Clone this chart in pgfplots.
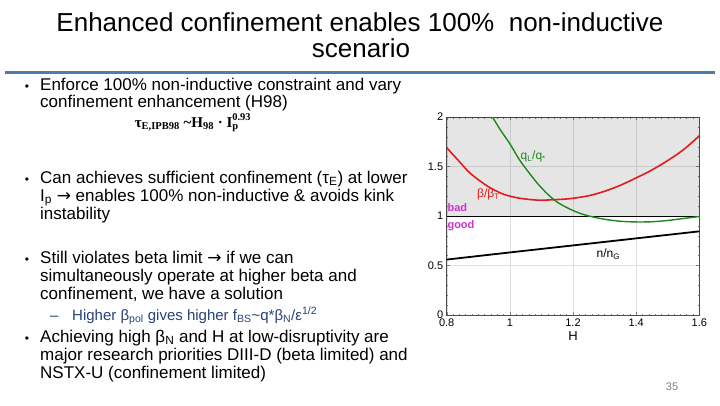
\documentclass[border=0pt]{standalone}
\usepackage{fontspec}
\setmainfont{Liberation Sans}
\newfontfamily\serifbf{Liberation Serif}
\newfontfamily\dejavu{DejaVu Sans}
\usepackage{pgfplots}
\pgfplotsset{compat=1.18}
\definecolor{rulblue}{RGB}{79,124,172}
\definecolor{subblue}{RGB}{38,66,118}
\definecolor{cred}{RGB}{226,28,28}
\definecolor{cgreen}{RGB}{30,135,30}
\definecolor{cmag}{RGB}{204,51,204}
\newcommand{\arr}{{\dejavu →}}
\begin{document}
\begin{tikzpicture}[x=1pt,y=1pt]
\useasboundingbox[fill=white] (0,0) rectangle (720,-405);
% title
\node[anchor=base,font=\fontsize{26}{26}\selectfont,inner sep=0pt] at (360,-31) {Enhanced confinement enables 100\%\ \ non-inductive};
\node[anchor=base,font=\fontsize{26}{26}\selectfont,inner sep=0pt] at (361,-57) {scenario};
\fill[rulblue] (5,-70.5) rectangle (715,-73.5);
% body text
\tikzset{bl/.style={anchor=base west,inner sep=0pt,font=\fontsize{17}{18}\selectfont},
         bu/.style={anchor=base,inner sep=0pt,font=\fontsize{12}{12}\selectfont}}
\node[bu] at (27,-90) {•};
\node[bl] at (40,-90) {Enforce 100\% non-inductive constraint and vary};
\node[bl] at (40,-107.5) {confinement enhancement (H98)};
\node[anchor=base,inner sep=0pt,font=\serifbf\bfseries\fontsize{15}{15}\selectfont] at (193,-127) {τ\textsubscript{E,IPB98} \textasciitilde H\textsubscript{98} · I\rlap{\textsubscript{p}}\raisebox{1.5pt}{\textsuperscript{0.93}}};
\node[bu] at (27,-183) {•};
\node[bl] at (40,-183) {Can achieves sufficient confinement (τ\textsubscript{E}) at lower};
\node[bl] at (40,-201) {I\textsubscript{p} \arr{} enables 100\% non-inductive \& avoids kink};
\node[bl] at (40,-219) {instability};
\node[bu] at (27,-263) {•};
\node[bl] at (40,-263) {Still violates beta limit \arr{} if we can};
\node[bl] at (40,-281) {simultaneously operate at higher beta and};
\node[bl] at (40,-299) {confinement, we have a solution};
\node[anchor=base west,inner sep=0pt,font=\fontsize{15}{15}\selectfont,text=subblue] at (50,-320) {–};
\node[anchor=base west,inner sep=0pt,font=\fontsize{15}{15}\selectfont,text=subblue] at (72,-320) {Higher β\textsubscript{pol} gives higher f\textsubscript{BS}\textasciitilde q*β\textsubscript{N}/ε\textsuperscript{1/2}};
\node[bu] at (27,-342) {•};
\node[bl] at (40,-342) {Achieving high β\textsubscript{N} and H at low-disruptivity are};
\node[bl] at (40,-360) {major research priorities DIII-D (beta limited) and};
\node[bl] at (40,-378) {NSTX-U (confinement limited)};
\node[anchor=base,inner sep=0pt,font=\fontsize{11}{11}\selectfont,text=gray] at (672,-390) {35};
% chart
\begin{axis}[at={(446.7pt,-315pt)},anchor=south west,
  scale only axis,width=252.6pt,height=198pt,
  xmin=0.8,xmax=1.6,ymin=0,ymax=2,
  xtick={0.8,1,1.2,1.4,1.6},ytick={0,0.5,1,1.5,2},
  xticklabels={0.8,1,1.2,1.4,1.6},yticklabels={0,0.5,1,1.5,2},
  minor x tick num=9,minor y tick num=4,
  major tick length=3pt,minor tick length=1.5pt,
  tick style={gray,line width=0.4pt},
  axis line style={gray!60!black,line width=0.5pt},
  grid=major,grid style={gray!25,line width=0.4pt},
  tick label style={font=\fontsize{11}{11}\selectfont},
  xlabel={H},
  xlabel style={font=\fontsize{13}{13}\selectfont,at={(axis description cs:0.5,0)},anchor=base,yshift=-25.5pt},
  clip=true]
\addplot[draw=none,fill=black,fill opacity=0.1] coordinates {(0.8,1)(1.6,1)(1.6,2)(0.8,2)(0.8,1)};
\addplot[black,line width=1pt] coordinates {(0.8,1)(1.6,1)};
\addplot[black,line width=1.8pt] coordinates {(0.8,0.56)(1.0,0.632)(1.2,0.703)(1.4,0.774)(1.6,0.845)};
\addplot[cred,line width=1.6pt,smooth] coordinates {(0.8,1.69)(0.84,1.55)(0.875,1.43)(0.93,1.30)(0.98,1.22)(1.03,1.18)(1.09,1.16)(1.14,1.165)(1.19,1.175)(1.25,1.205)(1.3,1.25)(1.35,1.31)(1.4,1.385)(1.45,1.465)(1.5,1.56)(1.55,1.67)(1.6,1.81)};
\addplot[cgreen,line width=1.4pt,smooth] coordinates {(0.935,2.05)(0.945,2.0)(0.97,1.87)(1.0,1.73)(1.03,1.57)(1.06,1.44)(1.09,1.32)(1.12,1.22)(1.15,1.14)(1.19,1.07)(1.22,1.03)(1.25,1.0)(1.3,0.967)(1.35,0.947)(1.4,0.94)(1.45,0.942)(1.5,0.955)(1.55,0.975)(1.6,0.995)};
\node[text=cgreen,font=\fontsize{12}{12}\selectfont,inner sep=0pt] at (axis cs:1.074,1.6) {q\textsubscript{L}/q\textsubscript{*}};
\node[text=cred,font=\fontsize{12}{12}\selectfont,inner sep=0pt] at (axis cs:0.932,1.22) {β/β\textsubscript{T}};
\node[text=black,font=\fontsize{12}{12}\selectfont,inner sep=0pt] at (axis cs:1.312,0.616) {n/n\textsubscript{G}};
\node[text=cmag,font=\bfseries\fontsize{11}{11}\selectfont,inner sep=0pt,anchor=west] at (axis cs:0.802,1.09) {bad};
\node[text=cmag,font=\bfseries\fontsize{11}{11}\selectfont,inner sep=0pt,anchor=west] at (axis cs:0.802,0.90) {good};
\end{axis}
\end{tikzpicture}
\end{document}
